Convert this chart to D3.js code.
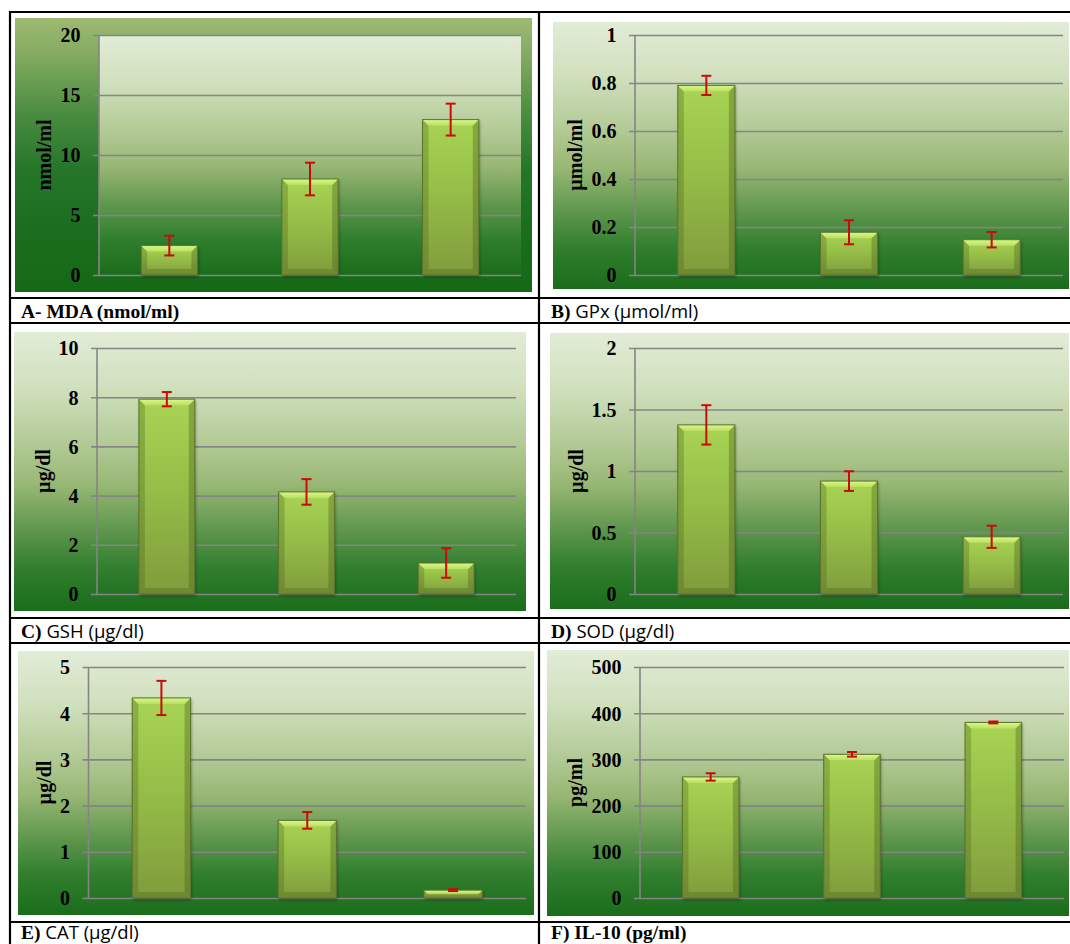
<!DOCTYPE html>
<html><head><meta charset="utf-8">
<script src="https://cdn.jsdelivr.net/npm/d3@7"></script>
<style>html,body{margin:0;padding:0;background:#fff;} svg{display:block}</style>
</head><body>
<svg id="c" width="1070" height="944"></svg>
<script>
// ---------- DATA ----------
const groups = ["Group 1", "Group 2", "Group 3"];

const mdaMean  = [2.45, 8.0, 12.95];
const mdaErr   = [0.82, 1.36, 1.33];
const mdaTicks = [0, 5, 10, 15, 20];

const gpxMean  = [0.79, 0.178, 0.147];
const gpxErr   = [0.04, 0.05, 0.032];
const gpxTicks = [0, 0.2, 0.4, 0.6, 0.8, 1];

const gshMean  = [7.92, 4.15, 1.26];
const gshErr   = [0.29, 0.52, 0.6];
const gshTicks = [0, 2, 4, 6, 8, 10];

const sodMean  = [1.375, 0.918, 0.465];
const sodErr   = [0.16, 0.08, 0.09];
const sodTicks = [0, 0.5, 1, 1.5, 2];

const catMean  = [4.33, 1.68, 0.17];
const catErr   = [0.37, 0.18, 0.02];
const catTicks = [0, 1, 2, 3, 4, 5];

const il10Mean  = [262, 311, 380];
const il10Err   = [8, 5, 2];
const il10Ticks = [0, 100, 200, 300, 400, 500];

const yTitles  = ["nmol/ml", "µmol/ml", "µg/dl", "µg/dl", "µg/dl", "pg/ml"];
const capBold  = ["A- MDA (nmol/ml)", "B)", "C)", "D)", "E)", "F) IL-10 (pg/ml)"];
const capRest  = ["", " GPx (µmol/ml)", " GSH (µg/dl)", " SOD (µg/dl)", " CAT (µg/dl)", ""];

// ---------- LAYOUT ----------
const panels = [
  {mean: mdaMean, err: mdaErr, ticks: mdaTicks, box:[15,18,532,292],  plot:[99,35,521,275],  titleX:44,  cap:[21,318],  special:true},
  {mean: gpxMean, err: gpxErr, ticks: gpxTicks, box:[553,22,1069,289], plot:[635,35,1063,275], titleX:575, cap:[551,318]},
  {mean: gshMean, err: gshErr, ticks: gshTicks, box:[14,332,526,611],  plot:[97,348,516,594],  titleX:43,  cap:[21,638]},
  {mean: sodMean, err: sodErr, ticks: sodTicks, box:[550,333,1069,609], plot:[635,348,1063,594], titleX:576, cap:[551,638]},
  {mean: catMean, err: catErr, ticks: catTicks, box:[18,651,534,915],  plot:[88.5,667,526,898], titleX:44, cap:[21,939]},
  {mean: il10Mean, err: il10Err, ticks: il10Ticks, box:[547,650,1069,916], plot:[640,667,1064,898], titleX:575, cap:[551,939]}
];

const svg = d3.select("#c");
const defs = svg.append("defs");

function vgrad(id, stops) {
  const g = defs.append("linearGradient").attr("id", id)
    .attr("x1", 0).attr("y1", 0).attr("x2", 0).attr("y2", 1);
  stops.forEach(s => g.append("stop").attr("offset", s[0]).attr("stop-color", s[1]));
}
vgrad("bg", [[0,"#e2ecd7"],[0.2,"#d0e0bd"],[0.4,"#b3ca96"],[0.55,"#97b774"],[0.7,"#62984f"],[0.85,"#307e2e"],[1,"#1a6c1b"]]);
vgrad("bgA", [[0,"#9eba72"],[0.15,"#7fa95e"],[0.35,"#4a8c40"],[0.55,"#26762a"],[0.8,"#1a6d1c"],[1,"#156916"]]);
vgrad("barV", [[0,"#a9d454"],[0.45,"#96be48"],[1,"#7f9c3c"]]);
vgrad("barTop", [[0,"#dcf888"],[1,"#b9e062"]]);

const f = defs.append("filter").attr("id","sh").attr("x","-20%").attr("y","-20%").attr("width","140%").attr("height","140%");
f.append("feGaussianBlur").attr("stdDeviation", 1.5);

const serif = "'Liberation Serif','Times New Roman',serif";
const sans = "'Open Sans','Noto Sans',sans-serif";

panels.forEach((p, i) => {
  const [bx0, by0, bx1, by1] = p.box;
  const [px0, py0, px1, py1] = p.plot;
  const g = svg.append("g");

  g.append("rect").attr("x", bx0).attr("y", by0).attr("width", bx1 - bx0).attr("height", by1 - by0)
    .attr("fill", p.special ? "url(#bgA)" : "url(#bg)");
  if (p.special) {
    g.append("rect").attr("x", px0).attr("y", py0).attr("width", px1 - px0).attr("height", py1 - py0)
      .attr("fill", "url(#bg)");
  }

  const y = d3.scaleLinear().domain([p.ticks[0], p.ticks[p.ticks.length - 1]]).range([py1, py0]);
  const x = d3.scaleBand().domain(groups).range([px0, px1]).paddingInner(0.6).paddingOuter(0.3);

  // axis with gridlines
  const axis = d3.axisLeft(y).tickValues(p.ticks).tickSize(-(px1 - px0)).tickPadding(0).tickFormat(d3.format("~g"));
  const ag = g.append("g").attr("transform", `translate(${px0},0)`).call(axis);
  ag.select(".domain").remove();
  ag.selectAll(".tick line").attr("x1", -6).attr("stroke", "#858585").attr("stroke-width", 1.6);
  ag.selectAll(".tick text").attr("x", -18.5).attr("dy", "0.34em")
    .attr("font-family", serif).attr("font-weight", "bold").attr("font-size", 20).attr("fill", "#000");
  g.append("line").attr("x1", px0).attr("x2", px0).attr("y1", py0).attr("y2", py1)
    .attr("stroke", "#858585").attr("stroke-width", 1.6);

  // y title
  g.append("text").attr("transform", `translate(${p.titleX},${(py0 + py1) / 2}) rotate(-90)`)
    .attr("text-anchor", "middle").attr("dominant-baseline", "central")
    .attr("font-family", serif).attr("font-weight", "bold").attr("font-size", 20).text(yTitles[i]);

  // bars
  const data = groups.map((gname, k) => ({g: gname, v: p.mean[k], e: p.err[k]}));
  const bw = x.bandwidth();
  data.forEach(d => {
    const x0 = x(d.g), x1 = x0 + bw, yt = y(d.v), yb = y(0), h = yb - yt;
    const b = Math.min(6, h / 2.2);
    g.append("rect").attr("x", x0 + 1).attr("y", yt + 1).attr("width", bw).attr("height", h + 1)
      .attr("fill", "rgba(0,0,0,0.35)").attr("filter", "url(#sh)");
    g.append("rect").attr("x", x0).attr("y", yt).attr("width", bw).attr("height", h)
      .attr("fill", "url(#barV)");
    g.append("polygon").attr("points", [[x0,yt],[x0+b,yt+b],[x0+b,yb-b],[x0,yb]].join(" "))
      .attr("fill", "rgba(70,95,25,0.30)");
    g.append("polygon").attr("points", [[x1,yt],[x1-b,yt+b],[x1-b,yb-b],[x1,yb]].join(" "))
      .attr("fill", "rgba(70,95,25,0.36)");
    g.append("polygon").attr("points", [[x0,yb],[x1,yb],[x1-b,yb-b],[x0+b,yb-b]].join(" "))
      .attr("fill", "rgba(70,95,25,0.30)");
    g.append("polygon").attr("points", [[x0,yt],[x1,yt],[x1-b,yt+b],[x0+b,yt+b]].join(" "))
      .attr("fill", "url(#barTop)");
    g.append("rect").attr("x", x0).attr("y", yt).attr("width", bw).attr("height", h)
      .attr("fill", "none").attr("stroke", "#5c7230").attr("stroke-width", 1);

    // error bar
    const cx = x0 + bw / 2, eTop = y(d.v + d.e), eBot = y(d.v - d.e);
    const eg = g.append("g").attr("stroke", "#cc0a0a").attr("stroke-width", 2);
    eg.append("line").attr("x1", cx).attr("x2", cx).attr("y1", eTop).attr("y2", eBot);
    eg.append("line").attr("x1", cx - 5).attr("x2", cx + 5).attr("y1", eTop).attr("y2", eTop);
    eg.append("line").attr("x1", cx - 5).attr("x2", cx + 5).attr("y1", eBot).attr("y2", eBot);
  });

  // caption
  const t = svg.append("text").attr("x", p.cap[0]).attr("y", p.cap[1]).attr("font-size", 19.5).attr("fill", "#000");
  t.append("tspan").attr("font-family", serif).attr("font-weight", "bold").text(capBold[i]);
  if (capRest[i]) t.append("tspan").attr("font-family", sans).attr("font-size", 18.5).text(capRest[i]);
});

// table lines
const lines = [
  [10, 12, 1072, 12], [10, 298, 1072, 298], [10, 323, 1072, 323],
  [10, 618, 1072, 618], [10, 643, 1072, 643], [10, 922, 1072, 922],
  [10, 11, 10, 950], [539, 11, 539, 950]
];
svg.append("g").selectAll("line").data(lines).join("line")
  .attr("x1", d => d[0]).attr("y1", d => d[1]).attr("x2", d => d[2]).attr("y2", d => d[3])
  .attr("stroke", "#000").attr("stroke-width", 2.2);
</script>
</body></html>
